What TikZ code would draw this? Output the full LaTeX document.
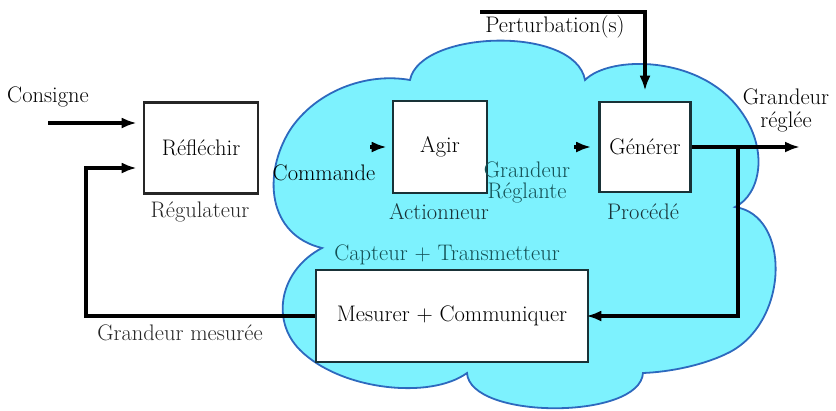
\documentclass[tikz,border=0pt]{standalone}
\usetikzlibrary{arrows.meta}
\definecolor{cloudfill}{RGB}{125,242,254}
\definecolor{cloudline}{RGB}{45,105,190}
\definecolor{tealtext}{RGB}{20,80,85}
\definecolor{darkteal}{RGB}{25,50,55}
\begin{document}
\begin{tikzpicture}[x=1pt,y=-1pt,font=\fontsize{22.5}{24}\selectfont,
  blockbox/.style={draw=black!85, line width=2.6pt, fill=white, inner sep=0pt},
  lbl/.style={inner sep=0pt},
  flow/.style={line width=3.2pt, -{Latex[length=15pt,width=11pt]}},
  cloudshape/.style={fill=cloudfill, draw=cloudline, line width=1.8pt}]
\useasboundingbox (0,0) rectangle (836,410);
% cloud
\path[cloudshape] (322,248)
  .. controls (268,235) and (262,175) .. (290,130)
  .. controls (315,92) and (365,72) .. (410,80)
  .. controls (420,30) and (575,25) .. (585,80)
  .. controls (610,55) and (700,55) .. (740,110)
  .. controls (770,150) and (760,195) .. (735,207)
  .. controls (790,215) and (790,320) .. (730,352)
  .. controls (705,365) and (670,372) .. (643,373)
  .. controls (640,420) and (470,420) .. (467,373)
  .. controls (430,400) and (340,390) .. (300,350)
  .. controls (270,320) and (280,270) .. (322,248) -- cycle;
% boxes
\node[blockbox, minimum width=114pt, minimum height=91pt] (reg) at (201,148) {Réfléchir};
\node[blockbox, draw=darkteal, minimum width=94pt, minimum height=92pt] (act) at (440,147) {Agir};
\node[blockbox, draw=darkteal, minimum width=91pt, minimum height=90pt] (gen) at (645,147) {Générer};
\node[blockbox, draw=darkteal, minimum width=272pt, minimum height=92pt] (mes) at (452,316) {Mesurer + Communiquer};
% labels
\node[lbl] (lcons) at (48,97) {Consigne};
\node[lbl, text=black!85] (lreg) at (200,212) {Régulateur};
\node[lbl] (lcmd) at (324,173) {Commande};
\node[lbl, text=darkteal] (lact) at (439,212) {Actionneur};
\node[lbl, text=tealtext] (lgr1) at (527,170) {Grandeur};
\node[lbl, text=tealtext] (lgr2) at (527,193) {Réglante};
\node[lbl, text=darkteal] (lproc) at (643,212) {Procédé};
\node[lbl] (lpert) at (555,27) {Perturbation(s)};
\node[lbl] (lout1) at (786,97) {Grandeur};
\node[lbl] (lout2) at (786,122) {réglée};
\node[lbl, text=tealtext] (lcap) at (447,255) {Capteur + Transmetteur};
\node[lbl, text=black!85] (lmes) at (180,333) {Grandeur mesurée};
% connectors
\coordinate (cin) at (48,123);
\draw[flow, shorten >=6pt] (cin) -- (cin -| reg.west);
\coordinate (fb) at (86,168);
\draw[flow, shorten >=6pt] (mes.west) -| (fb) -- (fb -| reg.west);
\coordinate (cmd) at (370,147);
\draw[flow, shorten >=5pt] (cmd) -- (act.west);
\coordinate (grs) at (574,147);
\draw[flow, shorten >=7pt] (grs) -- (gen.west);
\coordinate (p0) at (480,12);
\draw[flow, shorten >=10pt] (p0) -| (gen.north);
\coordinate (out) at (800,147);
\draw[flow] (gen.east) -- (out);
\coordinate (br) at (738,147);
\draw[flow, shorten >=-3pt] (br) |- (mes.east);
\end{tikzpicture}
\end{document}
